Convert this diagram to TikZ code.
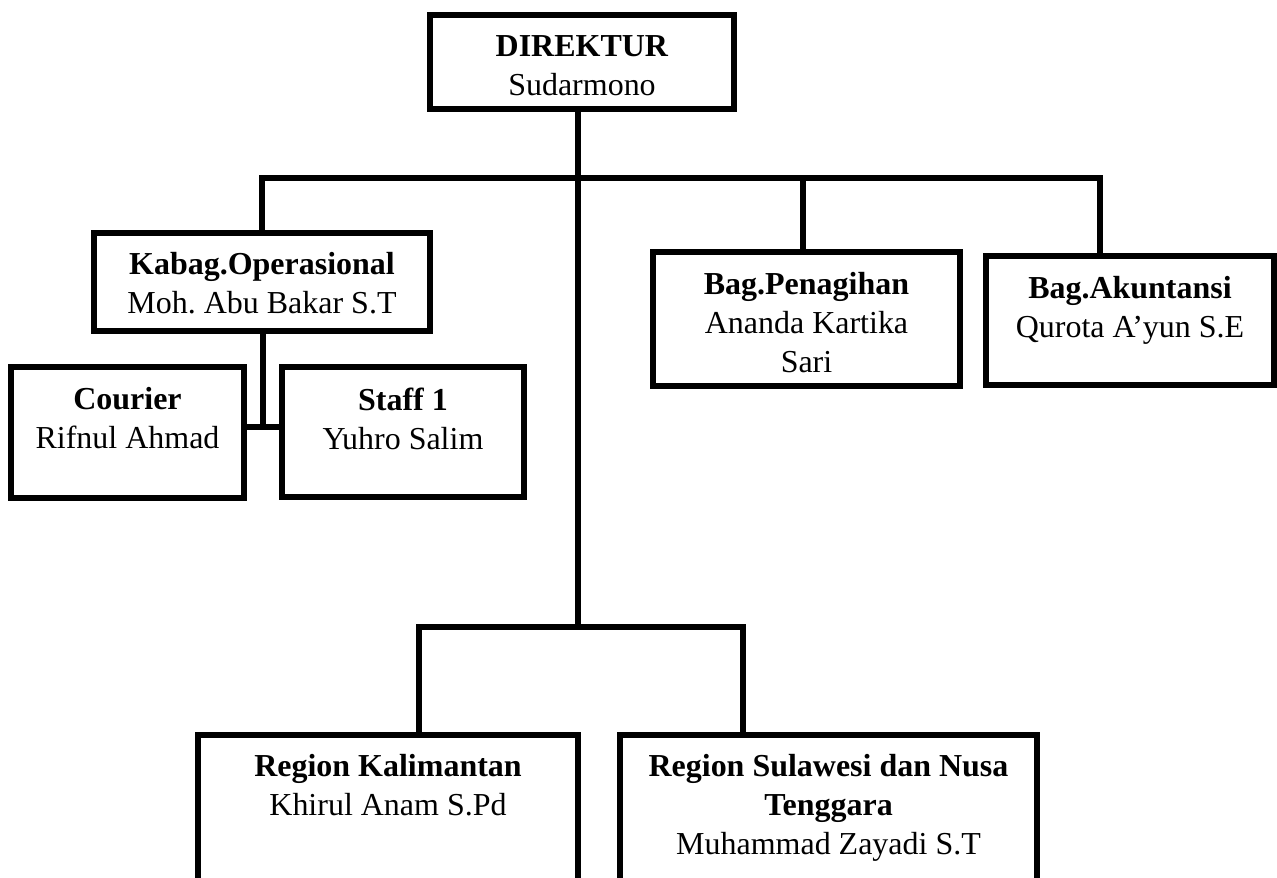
\documentclass[tikz,border=0pt]{standalone}
\usepackage{fontspec}
\setmainfont{Liberation Serif}
\frenchspacing
\begin{document}
\begin{tikzpicture}[x=0.02cm,y=-0.02cm,
  box/.style={draw, line width=0.12cm, rectangle, inner sep=0pt},
  lbl/.style={anchor=north, align=center, inner sep=0pt, font=\fontsize{18.2pt}{22.2pt}\selectfont},
  conn/.style={line width=0.12cm}]
\useasboundingbox (0,0) rectangle (1277,878);

% boxes
\node[box, minimum width=6.08cm, minimum height=1.88cm] (D) at (582,62) {};
\node[box, minimum width=6.72cm, minimum height=1.96cm] (K) at (262,282) {};
\node[box, minimum width=4.66cm, minimum height=2.62cm] (C) at (127.5,432.5) {};
\node[box, minimum width=4.84cm, minimum height=2.60cm] (S) at (403,432) {};
\node[box, minimum width=6.14cm, minimum height=2.68cm] (P) at (806.5,319) {};
\node[box, minimum width=5.76cm, minimum height=2.58cm] (A) at (1130,320.5) {};
\node[box, minimum width=7.60cm, minimum height=3.20cm] (Ka) at (388,815) {};
\node[box, minimum width=8.34cm, minimum height=3.20cm] (Su) at (828.5,815) {};

% texts
\node[lbl] (Dt) at (582,35.5) {\textbf{DIREKTUR}\\Sudarmono};
\node[lbl] (Kt) at (262,251.5) {\textbf{Kabag.Operasional}\\Moh. Abu Bakar S.T};
\node[lbl] (Ct) at (127.5,386.5) {\textbf{Courier}\\Rifnul Ahmad};
\node[lbl] (St) at (403,387.5) {\textbf{Staff 1}\\Yuhro Salim};
\node[lbl] (Pt) at (806.5,271.5) {\textbf{Bag.Penagihan}\\Ananda Kartika\\Sari};
\node[lbl] (At) at (1130,275.5) {\textbf{Bag.Akuntansi}\\Qurota A’yun S.E};
\node[lbl] (Kat) at (388,753.5) {\textbf{Region Kalimantan}\\Khirul Anam S.Pd};
\node[lbl] (Sut) at (828.5,753.5) {\textbf{Region Sulawesi dan Nusa}\\\textbf{Tenggara}\\Muhammad Zayadi S.T};

% connector points
\coordinate (j1) at (578,178);
\coordinate (j2) at (578,627);
\coordinate (aR) at (1100,178);
\coordinate (pX) at (803,178);
\coordinate (cs) at (263,427);
\coordinate (bl) at (419,627);
\coordinate (br) at (743,627);

\draw[conn] (D.south -| j1) -- (j2);
\draw[conn] (K.north) |- (aR) -- (A.north -| aR);
\draw[conn] (pX) -- (P.north -| pX);
\draw[conn] (K.south -| cs) -- (cs);
\draw[conn] (C.east |- cs) -- (S.west |- cs);
\draw[conn] (Ka.north -| bl) |- (br) -- (Su.north -| br);
\end{tikzpicture}
\end{document}
